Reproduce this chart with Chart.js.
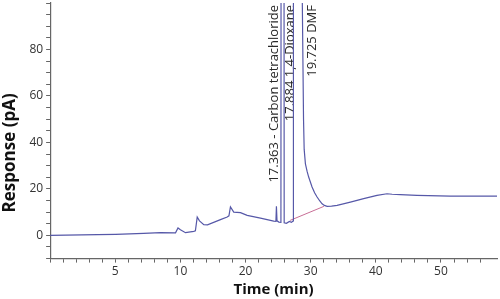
<!DOCTYPE html>
<html>
<head>
<meta charset="utf-8">
<script src="https://cdn.jsdelivr.net/npm/chart.js@4/dist/chart.umd.min.js"></script>
<style>
  html, body { margin: 0; padding: 0; background: #fff; }
  #wrap { width: 500px; height: 299px; }
</style>
</head>
<body>
<div id="wrap"><canvas id="gc_Chart"></canvas></div>
<script>
// x values are in the axis' own units: one major division = 10, labelled with xTickLabels
const xTickLabels = ["5", "10", "20", "30", "40", "50"];

const traceX = [0, 7.29, 10.05, 14.34, 16.95, 19.25, 19.63, 20.0, 20.78, 22.05, 22.3, 22.58, 22.93, 23.59, 24.16,
    26.15, 27.18, 27.45, 27.68, 28.19, 29.22, 30.25, 32.29, 34.33, 34.66, 34.74, 34.83, 35.12, 35.43,
    35.5, 35.85, 35.93, 36.27, 36.73, 37.04, 37.3, 37.35, 38.5, 38.7, 38.9, 39.0, 39.19, 39.45, 39.69,
    40.21, 40.6, 40.98, 41.4, 41.75, 42.1, 42.52, 43.2, 44.05, 46.09, 48.13, 50.18, 51.72, 52.5, 53.76,
    56.32, 61.43, 68.6];
const traceY = [0, 0.3, 0.43, 0.86, 1.16, 1.08, 3.2, 2.4, 1.16, 1.72, 1.94, 7.87, 6.24, 4.6, 4.5,
    6.75, 7.87, 8.4, 12.26, 10.0, 9.76, 8.6, 7.44, 6.15, 6.0, 12.47, 6.24, 5.72, 5.6,
    400, 400, 5.4, 5.16, 6.0, 5.6, 6.2, 400, 400, 104, 50, 37, 30.8, 27.5, 25.1,
    20.8, 18.3, 16.5, 14.8, 13.6, 12.9, 12.5, 12.6, 12.9, 14.3, 15.8, 17.2, 17.9, 17.7, 17.5,
    17.2, 16.9, 16.9];

// integration baseline under the DMF peak
const baseX = [36.84, 42.02];
const baseY = [6.45, 12.47];

const peakLabels = ["17.363 - Carbon tetrachloride", "17.884 1,4-Dioxane", "19.725 DMF"];
const peakLabelX = [34.43, 36.89, 40.26];

document.addEventListener("DOMContentLoaded", function() {

    const peakText = {
        id: 'peakText',
        beforeDatasetsDraw(chart) {
            const c = chart.ctx;
            const xs = chart.scales.x;
            c.save();
            c.fillStyle = '#2a2a2a';
            c.font = '13px "Open Sans"';
            c.textAlign = 'right';
            c.textBaseline = 'middle';
            peakLabels.forEach(function(t, i) {
                c.save();
                c.translate(xs.getPixelForValue(peakLabelX[i]), chart.chartArea.top + 2);
                c.rotate(-Math.PI / 2);
                c.fillText(t, 0, 0);
                c.restore();
            });
            c.restore();
        }
    };

    const ctx = document.getElementById('gc_Chart').getContext('2d');
    const gc_Chart = new Chart(ctx, {
        type: 'line',
        data: {
            datasets: [
            {
                label: 'Signal',
                data: traceX.map((x, i) => ({x: x, y: traceY[i]})),
                borderColor: 'rgb(86, 88, 168)',
                borderWidth: 1.2,
                pointRadius: 0,
                fill: false,
                tension: 0
            },
            {
                label: 'Baseline',
                data: baseX.map((x, i) => ({x: x, y: baseY[i]})),
                borderColor: 'rgb(200, 110, 150)',
                borderWidth: 1,
                pointRadius: 0,
                fill: false
            }]
        },
        plugins: [peakText],
        options: {
            responsive: true,
            maintainAspectRatio: false,
            animation: false,
            layout: { padding: { top: 3, right: 3 } },
            plugins: {
                legend: { display: false },
                tooltip: { enabled: false }
            },
            scales: {
                x: {
                    type: 'linear',
                    min: 0,
                    max: 68.6,
                    afterBuildTicks: function(scale) {
                        scale.ticks = scale.ticks.filter(t => Math.abs(t.value % 2) < 1e-6);
                    },
                    ticks: {
                        stepSize: 2,
                        autoSkip: false,
                        maxRotation: 0,
                        color: '#333',
                        font: { family: 'Open Sans', size: 12 },
                        padding: 2,
                        callback: function(value) {
                            if (value > 0 && value % 10 === 0) {
                                return xTickLabels[value / 10 - 1];
                            }
                            return '';
                        }
                    },
                    grid: {
                        drawOnChartArea: false,
                        tickLength: 4,
                        tickColor: '#666'
                    },
                    border: { color: '#666', width: 1.2 },
                    title: {
                        display: true,
                        text: 'Time (min)',
                        color: '#111',
                        font: { family: 'Open Sans', size: 15, weight: 'bold' },
                        padding: { top: 0, bottom: 0 }
                    }
                },
                y: {
                    min: -10,
                    max: 100,
                    afterFit: function(scale) {
                        // the empty "100" label should not push the plot down
                        scale.paddingTop = 0;
                    },
                    ticks: {
                        stepSize: 5,
                        autoSkip: false,
                        color: '#333',
                        font: { family: 'Open Sans', size: 12 },
                        padding: 3,
                        callback: function(value) {
                            // Display only specific labels
                            if (value % 20 === 0 && value >= 0 && value <= 80) {
                                return value;
                            }
                            return '';
                        }
                    },
                    grid: {
                        drawOnChartArea: false,
                        tickLength: 4,
                        tickColor: '#666'
                    },
                    border: { color: '#666', width: 1.2 },
                    title: {
                        display: true,
                        text: 'Response (pA)          ',
                        color: '#111',
                        font: { family: 'Open Sans', size: 17, weight: 'bold' },
                        padding: { top: 0, bottom: 6 }
                    }
                }
            }
        }
    });

});
</script>
</body>
</html>
